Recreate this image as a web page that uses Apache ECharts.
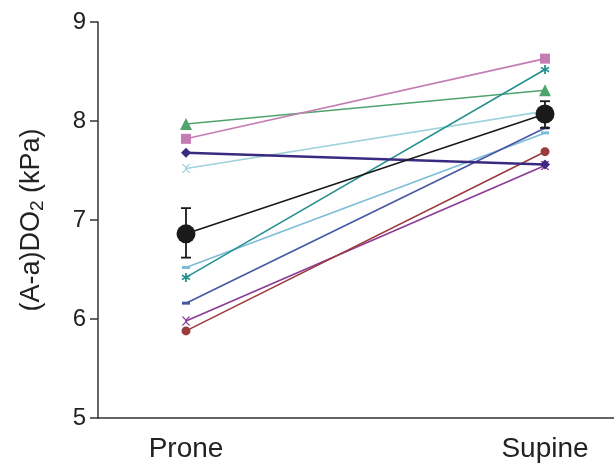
<!DOCTYPE html>
<html>
<head>
<meta charset="utf-8">
<script src="https://cdn.jsdelivr.net/npm/echarts@6/dist/echarts.min.js"></script>
<style>html,body{margin:0;padding:0;background:#fff}#c{width:614px;height:466px}</style>
</head>
<body>
<div id="c"></div>
<script>
var categories = ['Prone', 'Supine'];
var catPos = [1, 2];
var yTicks = [5, 6, 7, 8, 9];

var subjGreen = [7.97, 8.31];
var subjPink = [7.82, 8.63];
var subjNavy = [7.68, 7.56];
var subjPale = [7.52, 8.10];
var subjSky = [6.52, 7.88];
var subjTeal = [6.42, 8.52];
var subjSlate = [6.16, 7.93];
var subjPurple = [5.98, 7.55];
var subjBrown = [5.88, 7.69];
var meanVals = [6.86, 8.07];
var errLow = [6.62, 7.93];
var errHigh = [7.12, 8.20];

var xPath = 'path://M0,0L2,0L5,3L8,0L10,0L6,4L6,6L10,10L8,10L5,7L2,10L0,10L4,6L4,4Z';
var starPath = 'path://M4,0H6V3.5L9,1.8L10,3.5L7,5L10,6.5L9,8.2L6,6.5V10H4V6.5L1,8.2L0,6.5L3,5L0,3.5L1,1.8L4,3.5Z';

function pairs(vals){ return vals.map(function(v,i){ return [catPos[i], v]; }); }
function subj(vals, color, symbol, size, width){
  return {type:'line', data:pairs(vals), symbol:symbol, symbolSize:size,
    lineStyle:{color:color, width:width||1.6}, itemStyle:{color:color}, z:2, silent:true};
}

var FONT = 'Liberation Sans, Arial, Helvetica, sans-serif';
var chart = echarts.init(document.getElementById('c'));
chart.setOption({
  animation:false,
  grid:{left:98, right:0, top:22, bottom:48},
  xAxis:{type:'value', min:0.7549, max:2.1922,
    axisLine:{show:true, onZero:false, lineStyle:{color:'#333', width:1.5}},
    axisTick:{show:false}, splitLine:{show:false},
    axisLabel:{customValues:catPos, formatter:function(v){ return categories[catPos.indexOf(Math.round(v))] || ''; },
      fontSize:28, color:'#222', fontFamily:FONT, margin:17}
  },
  yAxis:{type:'value', min:yTicks[0], max:yTicks[yTicks.length-1], interval:1,
    axisLine:{show:true, lineStyle:{color:'#333', width:1.5}},
    axisTick:{show:true, length:8, lineStyle:{color:'#333', width:1.5}},
    splitLine:{show:false},
    axisLabel:{fontSize:24, color:'#222', fontFamily:FONT, margin:12},
    name:'(A-a)DO{s|2} (kPa)', nameLocation:'middle', nameGap:51,
    nameTextStyle:{fontSize:27, color:'#222', fontFamily:FONT,
      rich:{s:{fontSize:19, color:'#222', fontFamily:FONT, verticalAlign:'bottom', padding:[12,0,0,0]}}}
  },
  series:[
    subj(subjGreen, '#4fa46e', 'triangle', 12),
    subj(subjPink, '#c47db2', 'rect', 10),
    subj(subjPale, '#9fd3dc', xPath, 9),
    subj(subjSky, '#7dbcd8', 'rect', [8,3]),
    subj(subjTeal, '#26918f', starPath, 9),
    subj(subjSlate, '#4658a4', 'rect', [8,3]),
    subj(subjPurple, '#8b3a96', xPath, 9),
    subj(subjBrown, '#9a3b3e', 'circle', 9),
    subj(subjNavy, '#3a2a80', 'diamond', 10, 2.4),
    {type:'custom', z:3, silent:true,
      data: catPos.map(function(p,i){ return [p, errLow[i], errHigh[i]]; }),
      renderItem:function(params, api){
        var lo = api.coord([api.value(0), api.value(1)]);
        var hi = api.coord([api.value(0), api.value(2)]);
        var w = 5;
        var st = {stroke:'#1a1a1a', lineWidth:1.8};
        return {type:'group', children:[
          {type:'line', shape:{x1:lo[0], y1:lo[1], x2:hi[0], y2:hi[1]}, style:st},
          {type:'line', shape:{x1:lo[0]-w, y1:lo[1], x2:lo[0]+w, y2:lo[1]}, style:st},
          {type:'line', shape:{x1:hi[0]-w, y1:hi[1], x2:hi[0]+w, y2:hi[1]}, style:st}
        ]};
      }
    },
    {type:'line', data:pairs(meanVals), symbol:'circle', symbolSize:19, z:4, silent:true,
      lineStyle:{color:'#1a1a1a', width:1.6}, itemStyle:{color:'#1a1a1a'}}
  ]
});
</script>
</body>
</html>
